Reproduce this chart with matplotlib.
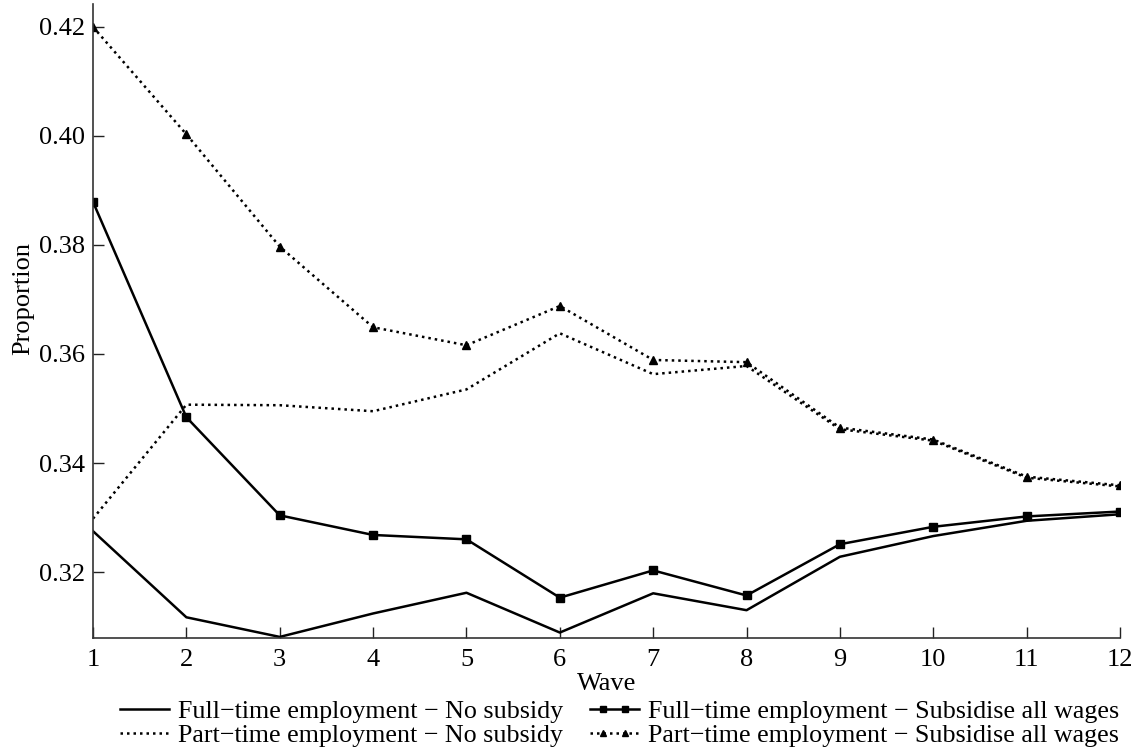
import matplotlib
matplotlib.use("Agg")
import matplotlib.pyplot as plt
from matplotlib.lines import Line2D
from matplotlib.legend_handler import HandlerLine2D

waves = list(range(1, 13))
ft_no_subsidy = [0.3275, 0.3117, 0.3081, 0.3124, 0.3162, 0.3089, 0.3161, 0.3130, 0.3228, 0.3266, 0.3294, 0.3306]
ft_subsidy = [0.3879, 0.3484, 0.3304, 0.3268, 0.3260, 0.3153, 0.3203, 0.3157, 0.3251, 0.3283, 0.3302, 0.3311]
pt_no_subsidy = [0.3298, 0.3507, 0.3506, 0.3495, 0.3535, 0.3638, 0.3563, 0.3578, 0.3462, 0.3441, 0.3373, 0.3357]
pt_subsidy = [0.4200, 0.4003, 0.3797, 0.3649, 0.3616, 0.3688, 0.3589, 0.3585, 0.3465, 0.3443, 0.3375, 0.3359]
labels = ["Full\u2212time employment \u2212 No subsidy",
          "Full\u2212time employment \u2212 Subsidise all wages",
          "Part\u2212time employment \u2212 No subsidy",
          "Part\u2212time employment \u2212 Subsidise all wages"]
yticks = [0.32, 0.34, 0.36, 0.38, 0.40, 0.42]

plt.rcParams['font.family'] = ['Liberation Serif', 'DejaVu Serif']
FS = 19


class InnerMarkerHandler(HandlerLine2D):
    def create_artists(self, legend, orig_handle, xdescent, ydescent,
                       width, height, fontsize, trans):
        y = (height - ydescent) / 2
        line = Line2D([-xdescent, width - xdescent], [y, y])
        self.update_prop(line, orig_handle, legend)
        line.set_marker('None')
        line.set_transform(trans)
        xs = [-xdescent + 0.28 * width, -xdescent + 0.72 * width]
        mk = Line2D(xs, [y, y])
        self.update_prop(mk, orig_handle, legend)
        mk.set_linestyle('None')
        mk.set_markersize(orig_handle.get_markersize() * legend.markerscale)
        mk.set_transform(trans)
        return [line, mk]


fig = plt.figure(figsize=(11.41, 7.53), dpi=100)
ax = fig.add_axes([93/1141, 1-638/753, (1120-93)/1141, (638-4)/753])

dot = (0, (1, 1.6))
l1, = ax.plot(waves, ft_no_subsidy, color='black', lw=1.8, label=labels[0])
l2, = ax.plot(waves, ft_subsidy, color='black', lw=1.8, marker='s', markersize=5.5, label=labels[1])
l3, = ax.plot(waves, pt_no_subsidy, color='black', lw=1.8, linestyle=dot, label=labels[2])
l4, = ax.plot(waves, pt_subsidy, color='black', lw=1.8, linestyle=dot, marker='^', markersize=5.5, label=labels[3])

ax.set_xlim(1, 12)
ax.set_ylim(0.3079, 0.4242)
ax.set_xticks(waves)
ax.set_yticks(yticks)
ax.set_yticklabels([f"{v:.2f}" for v in yticks])
ax.tick_params(direction='in', length=8, width=1, labelsize=FS, colors='#222222', labelcolor='black')
ax.tick_params(axis='x', pad=8)
ax.tick_params(axis='y', pad=6)
for s in ['top', 'right']:
    ax.spines[s].set_visible(False)
for s in ['left', 'bottom']:
    ax.spines[s].set_color('#333333')
    ax.spines[s].set_linewidth(1.2)
ax.set_xlabel("Wave", fontsize=FS, labelpad=1)
ax.set_ylabel("Proportion", fontsize=FS)
ax.yaxis.set_label_coords(-0.057, 0.535)

fig.legend(handles=[l1, l3, l2, l4], labels=[labels[0], labels[2], labels[1], labels[3]],
           ncol=2, loc='upper left', bbox_to_anchor=(120/1141, 1-700/753), frameon=False,
           fontsize=18.7, handlelength=1.9, handletextpad=0.35, columnspacing=1.0,
           labelspacing=0.02, borderaxespad=0, borderpad=0, markerscale=0.8,
           handler_map={Line2D: InnerMarkerHandler()})

fig.savefig("out.png", dpi=100)
